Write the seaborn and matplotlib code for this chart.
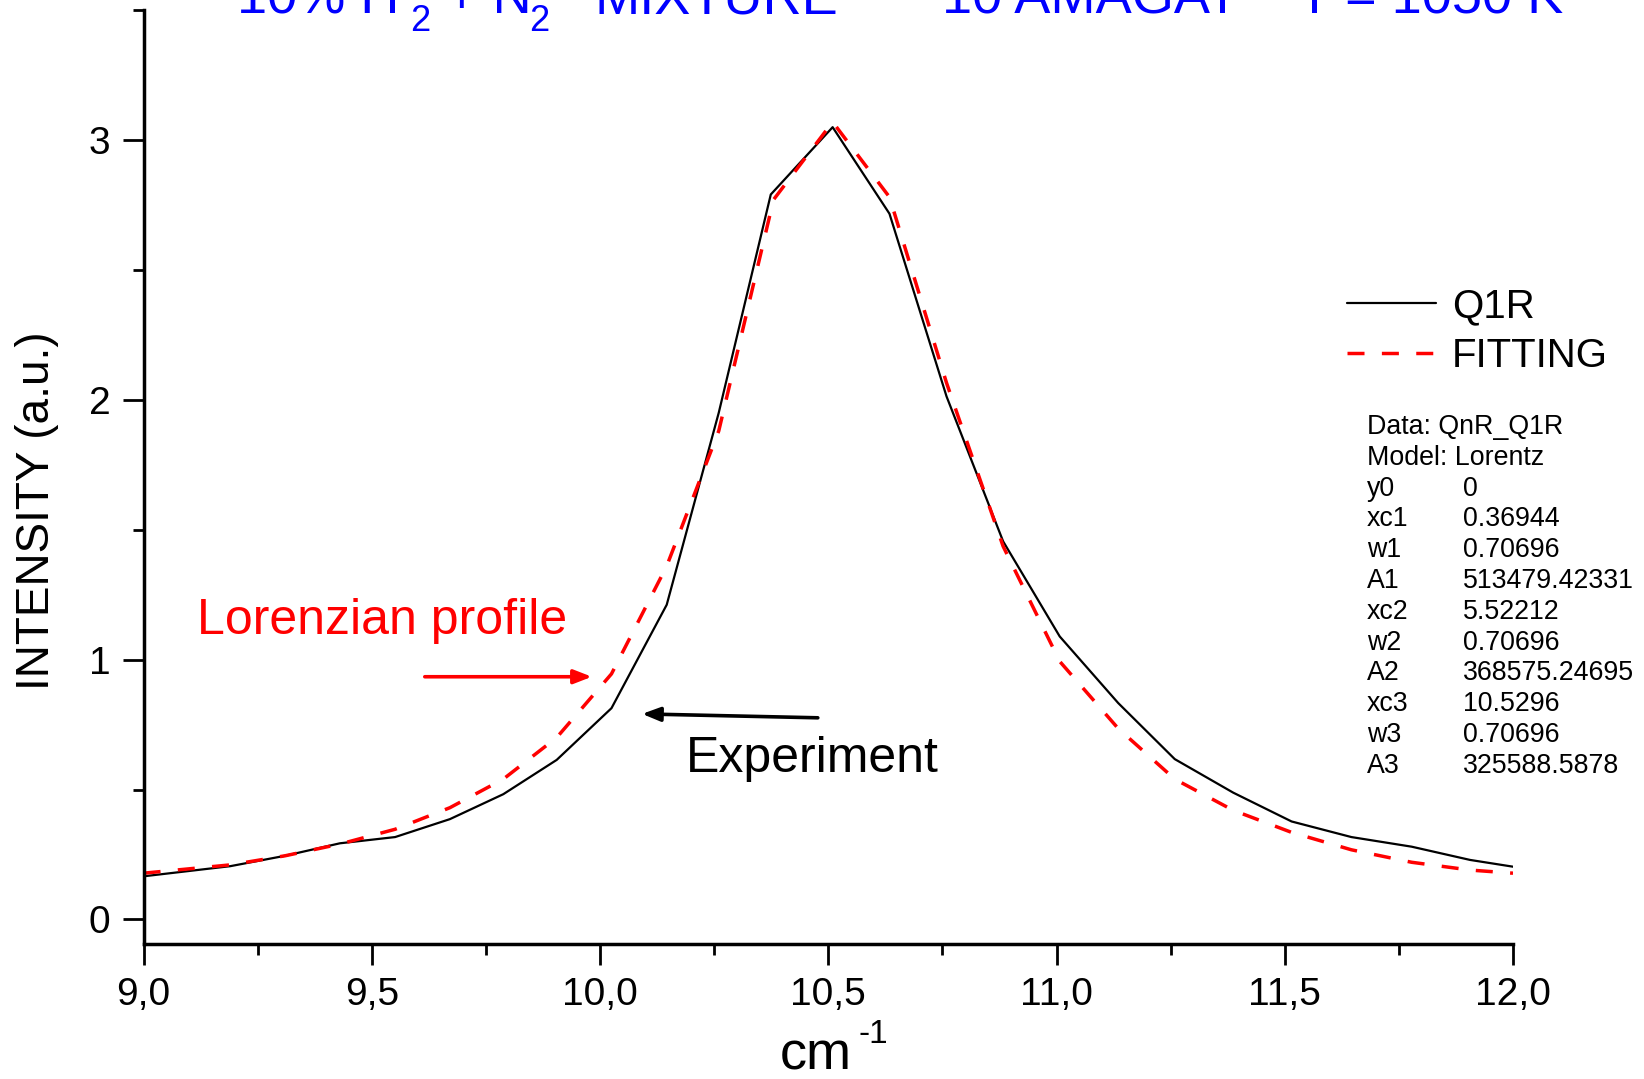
import numpy as np
import pandas as pd
import matplotlib
matplotlib.use("Agg")
import matplotlib.pyplot as plt
from matplotlib.ticker import MultipleLocator, FuncFormatter
import seaborn as sns

# ---------------- data ----------------
x_exp = [9.005, 9.19, 9.31, 9.43, 9.551, 9.671, 9.788, 9.905, 10.025, 10.146,
         10.26, 10.374, 10.5095, 10.634, 10.759, 10.883, 11.007, 11.135,
         11.259, 11.387, 11.515, 11.646, 11.778, 11.906, 12.0]
y_exp = [0.167, 0.205, 0.245, 0.293, 0.317, 0.386, 0.482, 0.614, 0.813, 1.211,
         1.95, 2.790, 3.049, 2.716, 2.013, 1.455, 1.089, 0.833,
         0.617, 0.488, 0.377, 0.317, 0.280, 0.229, 0.203]

x_fit = [9.0, 9.19, 9.31, 9.43, 9.551, 9.671, 9.788, 9.905, 10.025, 10.146,
         10.26, 10.38, 10.5095, 10.634, 10.759, 10.883, 11.007, 11.135,
         11.259, 11.387, 11.515, 11.646, 11.778, 11.906, 12.0]
y_fit = [0.178, 0.21, 0.245, 0.29, 0.347, 0.43, 0.54, 0.70, 0.945, 1.36,
         1.88, 2.77, 3.069, 2.78, 2.065, 1.436, 0.993, 0.735,
         0.54, 0.42, 0.335, 0.268, 0.22, 0.19, 0.178]

series_labels = ["Q1R", "FITTING"]
x_ticks = [9.0, 9.5, 10.0, 10.5, 11.0, 11.5, 12.0]
y_ticks = [0, 1, 2, 3]

param_names = ["y0", "xc1", "w1", "A1", "xc2", "w2", "A2", "xc3", "w3", "A3"]
param_values = ["0", "0.36944", "0.70696", "513479.42331", "5.52212", "0.70696",
                "368575.24695", "10.5296", "0.70696", "325588.5878"]

# ---------------- style ----------------
sns.set_theme(style="ticks")
FONT = ["Liberation Sans", "DejaVu Sans"]
plt.rcParams["font.family"] = FONT

W, H = 1644, 1079
fig = plt.figure(figsize=(W / 100, H / 100), dpi=100)
fig.patch.set_facecolor("white")


def fx(px):
    return px / W


def fy(py):
    return 1 - py / H


x_left, x_right = 143.6, 1513.0
y_top, y_bot = 10.0, 943.6
ax = fig.add_axes([fx(x_left), fy(y_bot), (x_right - x_left) / W, (y_bot - y_top) / H])
ax.set_facecolor("white")

df_exp = pd.DataFrame({"x": x_exp, "y": y_exp})
df_fit = pd.DataFrame({"x": x_fit, "y": y_fit})

sns.lineplot(data=df_exp, x="x", y="y", ax=ax, color="black", linewidth=1.6,
             sort=False, label=series_labels[0])
sns.lineplot(data=df_fit, x="x", y="y", ax=ax, color="#ff0000", linewidth=2.5,
             sort=False, label=series_labels[1], linestyle=(0, (4.9, 5.0)))

ax.set_xlim(9.0, 12.0)
ax.set_ylim(-0.093, 3.50)

for s in ["top", "right"]:
    ax.spines[s].set_visible(False)
for s in ["left", "bottom"]:
    ax.spines[s].set_linewidth(2.5)
    ax.spines[s].set_color("black")

ax.set_xticks(x_ticks)
ax.set_yticks(y_ticks)
ax.xaxis.set_minor_locator(MultipleLocator(0.25))
ax.yaxis.set_minor_locator(MultipleLocator(0.5))
ax.xaxis.set_major_formatter(FuncFormatter(lambda v, p: f"{v:.1f}".replace(".", ",")))
ax.yaxis.set_major_formatter(FuncFormatter(lambda v, p: f"{v:.0f}"))
ax.tick_params(axis="both", which="major", length=15, width=2.0, direction="out",
               color="black", labelsize=28, labelcolor="black")
ax.tick_params(axis="both", which="minor", length=8, width=2.0, direction="out", color="black")
ax.tick_params(axis="x", which="major", pad=9)
ax.tick_params(axis="y", which="major", pad=9)
ax.set_xlabel("")
ax.set_ylabel("")
ax.grid(False)

# y label
fig.text(fx(37), fy(511), "INTENSITY (a.u.)", rotation=90, ha="center", va="center",
         fontsize=33, color="black")

# x label: cm^-1
fig.text(fx(780), fy(1069), "cm", ha="left", va="baseline", fontsize=39, color="black")
fig.text(fx(858), fy(1043), "-1", ha="left", va="baseline", fontsize=24, color="black")

# Title (clipped at top of figure, as in reference)
blue = "#0000ff"
tsz = 39
fig.text(fx(237), fy(13), "10% H", ha="left", va="baseline", fontsize=tsz, color=blue)
fig.text(fx(410), fy(31), "2", ha="left", va="baseline", fontsize=26, color=blue)
fig.text(fx(446), fy(13), "+ N", ha="left", va="baseline", fontsize=tsz, color=blue)
fig.text(fx(529), fy(31), "2", ha="left", va="baseline", fontsize=26, color=blue)
fig.text(fx(594), fy(13), "MIXTURE", ha="left", va="baseline", fontsize=tsz, color=blue)
fig.text(fx(942), fy(13), "10 AMAGAT", ha="left", va="baseline", fontsize=tsz, color=blue)
fig.text(fx(1298), fy(13), "T = 1050 K", ha="left", va="baseline", fontsize=tsz, color=blue)

# Legend
leg = ax.legend(loc="upper left", bbox_to_anchor=(fx(1347), fy(287)),
                bbox_transform=fig.transFigure, frameon=False, borderpad=0,
                borderaxespad=0, handlelength=2.2, handletextpad=0.4,
                labelspacing=0.3, fontsize=29)
for t in leg.get_texts():
    t.set_color("black")

# Fit parameter block
fit_lines_left = ["Data: QnR_Q1R", "Model: Lorentz"] + param_names
fit_lines_right = ["", ""] + param_values
y0_line, dy = 427.0, 30.8
for i, (a, b) in enumerate(zip(fit_lines_left, fit_lines_right)):
    yy = y0_line + i * dy
    fig.text(fx(1367), fy(yy), a, ha="left", va="center", fontsize=19.3, color="black")
    if b:
        fig.text(fx(1463), fy(yy), b, ha="left", va="center", fontsize=19.3, color="black")

# Annotations
ax.text(9.523, 1.147, "Lorenzian profile", color="#ff0000", fontsize=36,
        ha="center", va="center")
ax.annotate("", xy=(9.982, 0.934), xytext=(9.616, 0.934),
            arrowprops=dict(arrowstyle="-|>,head_length=0.9,head_width=0.35",
                            color="#ff0000", lw=2.6, shrinkA=0, shrinkB=0))
ax.text(10.465, 0.618, "Experiment", color="black", fontsize=36,
        ha="center", va="center")
ax.annotate("", xy=(10.092, 0.791), xytext=(10.477, 0.776),
            arrowprops=dict(arrowstyle="-|>,head_length=0.9,head_width=0.35",
                            color="black", lw=2.6, shrinkA=0, shrinkB=0))

fig.savefig("out.png", dpi=100, facecolor="white")
